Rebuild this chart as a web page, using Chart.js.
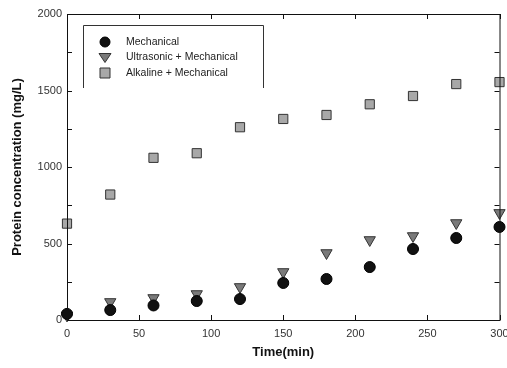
<!DOCTYPE html>
<html>
<head>
<meta charset="utf-8">
<script src="https://cdn.jsdelivr.net/npm/chart.js@4/dist/chart.umd.min.js"></script>
<style>
  html, body { margin: 0; padding: 0; background: #fff; }
  #wrap { width: 507px; height: 368px; }
</style>
</head>
<body>
<div id="wrap"><canvas id="c" width="507" height="368"></canvas></div>
<script>
const times = [0, 30, 60, 90, 120, 150, 180, 210, 240, 270, 300];
const mechanical = [40, 65, 95, 124, 137, 242, 268, 346, 464, 536, 608];
const ultrasonic = [30, 118, 144, 170, 216, 314, 438, 523, 549, 634, 700];
const alkaline = [630, 820, 1060, 1090, 1260, 1314, 1340, 1410, 1464, 1542, 1555];
const xTicks = [0, 50, 100, 150, 200, 250, 300];
const yTicks = [0, 500, 1000, 1500, 2000];
const yMinor = [250, 750, 1250, 1750];

const font = "'Liberation Sans', Arial, sans-serif";
const pts = arr => arr.map((v, i) => ({ x: times[i], y: v }));

// box frame + inward ticks, drawn from the chart scales
const frame = {
  id: 'frame',
  afterDatasetsDraw(chart) {
    const { ctx, chartArea: a, scales: { x, y } } = chart;
    ctx.save();
    ctx.strokeStyle = '#111';
    ctx.lineWidth = 1;
    ctx.strokeRect(a.left + 0.5, a.top + 0.5, a.right - a.left, a.bottom - a.top);
    ctx.beginPath();
    xTicks.forEach(t => {
      const px = Math.round(x.getPixelForValue(t)) + 0.5;
      ctx.moveTo(px, a.bottom); ctx.lineTo(px, a.bottom - 5);
      ctx.moveTo(px, a.top); ctx.lineTo(px, a.top + 5);
    });
    yTicks.concat(yMinor).forEach(t => {
      const py = Math.round(y.getPixelForValue(t)) + 0.5;
      ctx.moveTo(a.left, py); ctx.lineTo(a.left + 5, py);
      ctx.moveTo(a.right, py); ctx.lineTo(a.right - 5, py);
    });
    ctx.stroke();
    ctx.restore();
  }
};

// legend box like the original
const legendBox = {
  id: 'legendBox',
  afterDraw(chart) {
    const ctx = chart.ctx;
    ctx.save();
    ctx.strokeStyle = '#333';
    ctx.lineWidth = 1;
    ctx.beginPath();
    ctx.moveTo(83.5, 88); ctx.lineTo(83.5, 25.5); ctx.lineTo(263.5, 25.5); ctx.lineTo(263.5, 88);
    ctx.stroke();
    ctx.font = '10.5px ' + font;
    ctx.textBaseline = 'middle';
    chart.data.datasets.forEach((ds, i) => {
      const cy = 42 + i * 15.5;
      ctx.fillStyle = ds.backgroundColor;
      ctx.strokeStyle = ds.borderColor;
      ctx.lineWidth = 1;
      ctx.beginPath();
      if (ds.pointStyle === 'circle') {
        ctx.arc(105, cy, 5, 0, Math.PI * 2);
      } else if (ds.pointStyle === 'triangle') {
        ctx.moveTo(99, cy - 4); ctx.lineTo(111, cy - 4); ctx.lineTo(105, cy + 5); ctx.closePath();
      } else {
        ctx.rect(100, cy - 5, 10, 10);
      }
      ctx.fill(); ctx.stroke();
      ctx.fillStyle = '#222';
      ctx.fillText(ds.label, 126, cy);
    });
    ctx.restore();
  }
};

new Chart(document.getElementById('c'), {
  type: 'scatter',
  data: {
    datasets: [
      {
        label: 'Mechanical',
        data: pts(mechanical),
        pointStyle: 'circle',
        pointRadius: 5.5,
        backgroundColor: '#111',
        borderColor: '#000',
        borderWidth: 1,
        clip: false
      },
      {
        label: 'Ultrasonic + Mechanical',
        data: pts(ultrasonic),
        pointStyle: 'triangle',
        rotation: 180,
        pointRadius: 6.5,
        backgroundColor: '#7a7a7a',
        borderColor: '#333',
        borderWidth: 1,
        clip: false
      },
      {
        label: 'Alkaline + Mechanical',
        data: pts(alkaline),
        pointStyle: 'rect',
        pointRadius: 6.5,
        backgroundColor: '#a8a8a8',
        borderColor: '#333',
        borderWidth: 1,
        clip: false
      }
    ]
  },
  options: {
    responsive: false,
    animation: false,
    layout: { padding: { top: 14, right: 7, left: 0, bottom: 0 } },
    plugins: { legend: { display: false }, tooltip: { enabled: false } },
    scales: {
      x: {
        type: 'linear',
        min: 0, max: 300,
        afterFit: s => { s.height = 48; s.paddingLeft = 0; s.paddingRight = 0; },
        afterBuildTicks: s => { s.ticks = xTicks.map(v => ({ value: v })); },
        grid: { display: false, drawTicks: false },
        border: { display: false },
        ticks: { color: '#333', padding: 7, font: { family: font, size: 11 }, callback: v => String(v) },
        title: {
          display: true, text: 'Time(min)', color: '#111',
          padding: { top: 4, bottom: 8 },
          font: { family: font, size: 13, weight: 'bold' }
        }
      },
      y: {
        min: 0, max: 2000,
        afterFit: s => { s.width = 67; s.paddingTop = 0; s.paddingBottom = 0; },
        afterBuildTicks: s => { s.ticks = yTicks.map(v => ({ value: v })); },
        grid: { display: false, drawTicks: false },
        border: { display: false },
        ticks: { color: '#333', padding: 5, font: { family: font, size: 11 }, callback: v => String(v) },
        title: {
          display: true, text: 'Protein concentration (mg/L)', color: '#111',
          padding: { top: 10, bottom: 6 },
          font: { family: font, size: 13, weight: 'bold' }
        }
      }
    }
  },
  plugins: [frame, legendBox]
});
</script>
</body>
</html>
